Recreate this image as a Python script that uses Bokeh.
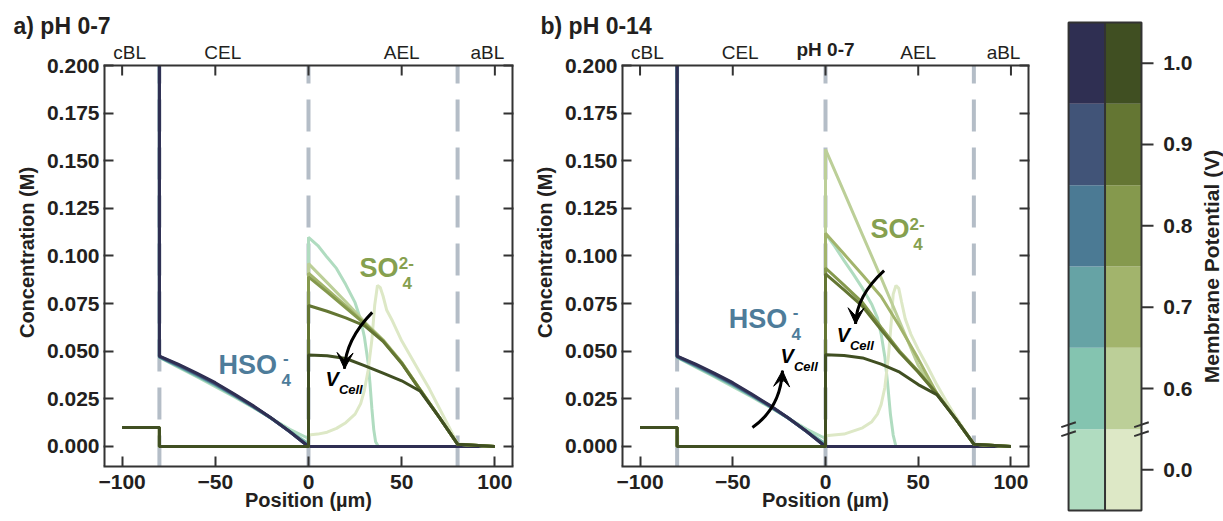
import math
from bokeh.plotting import figure
from bokeh.layouts import row
from bokeh.models import FixedTicker, Label, Arrow, VeeHead, LinearAxis
from bokeh.core.properties import value
from bokeh.embed import file_html
from bokeh.resources import INLINE

FONT = "Liberation Sans"
INK = "#231f20"
FRAME = "#333333"

# ---------------- data ----------------
POTENTIALS = ["0.0", "0.6", "0.7", "0.8", "0.9", "1.0"]
HSO_COLORS = ["#b0dcc0", "#84c4b0", "#66a3a5", "#4b7a94", "#415478", "#2f2f52"]
SO_COLORS = ["#dde8c6", "#bccf98", "#a2b46c", "#85994d", "#647633", "#404f22"]

X_TICKS = [-100, -50, 0, 50, 100]
X_TICK_LABELS = ["\u2212100", "\u221250", "0", "50", "100"]
Y_TICKS = [0.0, 0.025, 0.05, 0.075, 0.1, 0.125, 0.15, 0.175, 0.2]
Y_TICK_LABELS = ["0.000", "0.025", "0.050", "0.075", "0.100", "0.125", "0.150", "0.175", "0.200"]
REGION_POS = [-96, -46, 50, 96]
REGION_LABELS = ["cBL", "CEL", "AEL", "aBL"]
BOUNDARIES = [-80, 0, 80]

# bulk concentrations (x < -80); HSO4- is far above the plotted range
BULK_X = [-100, -80]
HSO_BULK = 1.0
SO_BULK = 0.010

# HSO4- through the cation exchange layer (same in both panels)
CEL_X = [-80, -70, -60, -50, -40, -30, -20, -10, 0]
HSO_CEL = {
    "0.0": [0.0468, 0.0417, 0.0366, 0.0314, 0.0261, 0.0206, 0.0148, 0.0090, 0.0042],
    "0.6": [0.0469, 0.0420, 0.0371, 0.0320, 0.0266, 0.0209, 0.0148, 0.0080, 0.0015],
    "0.7": [0.0470, 0.0423, 0.0374, 0.0324, 0.0269, 0.0211, 0.0148, 0.0078, 0.0005],
    "0.8": [0.0471, 0.0426, 0.0378, 0.0327, 0.0271, 0.0212, 0.0148, 0.0077, 0.0],
    "0.9": [0.0473, 0.0429, 0.0381, 0.0331, 0.0273, 0.0213, 0.0149, 0.0077, 0.0],
    "1.0": [0.0475, 0.0432, 0.0385, 0.0335, 0.0277, 0.0216, 0.0150, 0.0078, 0.0],
}

# HSO4- in the anion exchange layer at 0.0 V (zero for the other potentials)
HSO_A0_AEL_X = [0, 5, 10, 15, 20, 25, 28, 30, 32, 33, 34, 35, 36, 37.5]
HSO_A0_AEL = [0.1098, 0.1055, 0.0993, 0.0935, 0.0850, 0.0755, 0.0665, 0.0575,
              0.0440, 0.0330, 0.0200, 0.0090, 0.0025, 0.0]
HSO_B0_AEL_X = [0, 5, 10, 15, 20, 25, 28, 30, 32, 33.5, 35, 36.5, 38]
HSO_B0_AEL = [0.1116, 0.1050, 0.0976, 0.0905, 0.0830, 0.0745, 0.0675, 0.0590,
              0.0470, 0.0330, 0.0170, 0.0060, 0.0]

# SO4 2- in the anion exchange layer
SO_X = [0, 10, 20, 30, 40, 50, 60, 70, 80]
SO_A = {
    "0.6": [0.0960, 0.0860, 0.0760, 0.0655, 0.0560, 0.0442, 0.0298, 0.0157, 0.0012],
    "0.7": [0.0910, 0.0825, 0.0738, 0.0648, 0.0557, 0.0440, 0.0297, 0.0156, 0.0012],
    "0.8": [0.0890, 0.0810, 0.0728, 0.0645, 0.0555, 0.0438, 0.0296, 0.0156, 0.0012],
    "0.9": [0.0740, 0.0710, 0.0675, 0.0635, 0.0552, 0.0436, 0.0295, 0.0155, 0.0012],
    "1.0": [0.0480, 0.0476, 0.0462, 0.0425, 0.0385, 0.0345, 0.0290, 0.0155, 0.0012],
}
SO_A0_X = [0, 5, 10, 15, 20, 25, 28, 30, 32, 34, 35.5, 37, 38.5, 40, 42, 45,
           50, 55, 60, 65, 70, 75, 80]
SO_A0 = [0.0060, 0.0065, 0.0075, 0.0095, 0.0125, 0.0170, 0.0225, 0.0295, 0.0400,
         0.0560, 0.0740, 0.0845, 0.0835, 0.0790, 0.0715, 0.0660, 0.0555, 0.0470,
         0.0385, 0.0300, 0.0205, 0.0110, 0.0013]
SO_B = {
    "0.6": [0.1560, 0.1335, 0.1110, 0.0885, 0.0655, 0.0425, 0.0280, 0.0148, 0.0012],
    "0.7": [0.1120, 0.1010, 0.0900, 0.0787, 0.0630, 0.0460, 0.0280, 0.0148, 0.0012],
    "0.8": [0.0937, 0.0847, 0.0755, 0.0625, 0.0500, 0.0395, 0.0278, 0.0148, 0.0012],
    "0.9": [0.0906, 0.0822, 0.0735, 0.0612, 0.0493, 0.0390, 0.0277, 0.0148, 0.0012],
    "1.0": [0.0482, 0.0478, 0.0465, 0.0432, 0.0390, 0.0325, 0.0272, 0.0148, 0.0012],
}
SO_B0_X = [0, 10, 20, 25, 28, 30, 32, 34, 35.5, 36.5, 38, 39.5, 41, 43, 46, 50,
           55, 60, 65, 70, 75, 80]
SO_B0 = [0.0056, 0.0065, 0.0098, 0.0130, 0.0170, 0.0220, 0.0310, 0.0480, 0.0660,
         0.0800, 0.0845, 0.0830, 0.0760, 0.0670, 0.0590, 0.0510, 0.0420, 0.0325,
         0.0240, 0.0160, 0.0085, 0.0013]
TAIL_X = 100  # end of the anode boundary layer

# annotation anchors (data coordinates, vertical centre of the text)
ARROWS_A = [((34.2, 0.0704), (19.9, 0.0560), (19.3, 0.0408))]
ARROWS_B = [((31.6, 0.0923), (16.7, 0.0791), (16.2, 0.0643)),
            ((-39.4, 0.0100), (-24.2, 0.0203), (-23.2, 0.0398))]
VCELL_A = [(9.1, 0.0353)]
VCELL_B = [(-24.2, 0.0474), (6.0, 0.0584)]
HSO_LABEL_A = (-48.3, 0.0427)
HSO_LABEL_B = (-52.2, 0.0671)
SO_LABEL_A = (27.4, 0.0936)
SO_LABEL_B = (24.3, 0.1141)

X_RANGE = (-110, 110)
Y_RANGE = (-0.0105, 0.2)      # plotted box
PX = 0.2105 / 401.0           # concentration per pixel inside the box
Y_TOP = Y_RANGE[1] + 27 * PX  # drawing area reaches above the box for the region labels
REGION_Y = Y_RANGE[1] + 13 * PX
MID_Y = Y_RANGE[1] + 16.5 * PX
TICK_LEN = 10 * PX


def no_align(fig):
    if "frame_align" in fig.properties():
        fig.frame_align = False


def lbl(p, x, y, text, size, color=INK, style="bold"):
    p.add_layout(Label(x=x, y=y, text=text, text_font=FONT, text_font_size=size,
                       text_font_style=style, text_color=color, text_align="left",
                       text_baseline="middle"))


def make_panel(width, bl, br, title, title_offset, mid_label, so_ael, so0_x, so0,
               hso0_x, hso0, arrows, vcells, hso_pos, so_pos):
    p = figure(width=width, height=521, x_range=X_RANGE, y_range=(Y_RANGE[0], Y_TOP),
               output_backend="svg", toolbar_location=None,
               min_border_left=bl, min_border_right=br,
               min_border_top=38, min_border_bottom=55)
    no_align(p)
    p.xgrid.visible = False
    p.ygrid.visible = False
    p.outline_line_color = None

    p.title.text = title
    p.title.align = "left"
    p.title.offset = title_offset
    p.title.standoff = 0
    p.title.text_font = FONT
    p.title.text_font_size = "23px"
    p.title.text_font_style = "bold"
    p.title.text_color = INK

    bottom = p.below[0]
    left = p.left[0]
    right = LinearAxis()
    p.add_layout(right, "right")
    for ax in (bottom, left, right):
        ax.axis_line_color = FRAME
        ax.axis_line_width = 2
        ax.major_tick_line_color = FRAME
        ax.major_tick_line_width = 2
        ax.major_tick_in = 10
        ax.major_tick_out = 0
        ax.minor_tick_line_color = None
        ax.major_label_text_font = FONT
        ax.major_label_text_font_style = "bold"
        ax.major_label_text_font_size = "21px"
        ax.major_label_text_color = INK
        ax.axis_label_text_font = FONT
        ax.axis_label_text_font_style = "bold"
        ax.axis_label_text_font_size = "20px"
        ax.axis_label_text_color = INK
    left.axis_line_color = None
    right.axis_line_color = None

    bottom.ticker = FixedTicker(ticks=X_TICKS)
    bottom.major_label_overrides = dict(zip(X_TICKS, X_TICK_LABELS))
    bottom.major_label_standoff = 8
    bottom.axis_label = "Position (\u00b5m)"
    bottom.axis_label_standoff = -3

    left.ticker = FixedTicker(ticks=Y_TICKS)
    left.major_label_overrides = dict(zip(Y_TICKS, Y_TICK_LABELS))
    left.major_label_standoff = 4
    left.axis_label = "Concentration (M)"
    left.axis_label_standoff = 6

    right.ticker = FixedTicker(ticks=Y_TICKS)
    right.major_label_overrides = {t: "" for t in Y_TICKS}
    right.major_label_text_font_size = "1px"
    right.major_label_text_color = None
    right.major_label_standoff = 0

    # boundary markers
    p.segment(x0=BOUNDARIES, y0=[Y_RANGE[1]] * 3, x1=BOUNDARIES, y1=[Y_RANGE[0]] * 3,
              line_color="#b4bdc7", line_width=4, line_dash="32 16", line_dash_offset=14)

    # HSO4- profiles; the off-scale bulk value enters the box at its top edge
    for pot, col in zip(POTENTIALS, HSO_COLORS):
        xs = [BULK_X[-1]] + CEL_X
        ys = [min(HSO_BULK, Y_RANGE[1])] + HSO_CEL[pot]
        if pot == "0.0":
            xs = xs + hso0_x + [TAIL_X]
            ys = ys + hso0 + [0.0]
        else:
            xs = xs + [0, TAIL_X]
            ys = ys + [0.0, 0.0]
        p.line(xs, ys, line_color=col, line_width=3)

    # SO4 2- profiles
    for pot, col in zip(POTENTIALS, SO_COLORS):
        xs = BULK_X + [-80, 0]
        ys = [SO_BULK, SO_BULK, 0.0, 0.0]
        if pot == "0.0":
            xs = xs + so0_x + [TAIL_X]
            ys = ys + so0 + [0.0]
        else:
            xs = xs + SO_X + [TAIL_X]
            ys = ys + so_ael[pot] + [0.0]
        p.line(xs, ys, line_color=col, line_width=3)

    # box: side edges (half hidden by the drawing-area edge) and top edge
    p.segment(x0=list(X_RANGE), y0=[Y_RANGE[0]] * 2, x1=list(X_RANGE),
              y1=[Y_RANGE[1]] * 2, line_color=FRAME, line_width=4)
    p.segment(x0=[X_RANGE[0]], y0=[Y_RANGE[1]], x1=[X_RANGE[1]], y1=[Y_RANGE[1]],
              line_color=FRAME, line_width=2)
    # inward ticks along the top edge
    p.segment(x0=X_TICKS, y0=[Y_RANGE[1]] * len(X_TICKS), x1=X_TICKS,
              y1=[Y_RANGE[1] - TICK_LEN] * len(X_TICKS), line_color=FRAME, line_width=2)

    # region labels above the box
    p.text(x=REGION_POS, y=[REGION_Y] * len(REGION_POS), text=REGION_LABELS,
           text_font=value(FONT), text_font_size="19px", text_color=INK,
           text_align="center", text_baseline="middle")
    if mid_label:
        p.text(x=[0], y=[MID_Y], text=[mid_label], text_font=value(FONT),
               text_font_size="19px", text_font_style="bold", text_color=INK,
               text_align="center", text_baseline="middle")

    # V_cell arrows
    for (s, c, t) in arrows:
        p.quadratic(x0=[s[0]], y0=[s[1]], x1=[t[0]], y1=[t[1]], cx=[c[0]], cy=[c[1]],
                    line_color="black", line_width=3)
        p.add_layout(Arrow(end=VeeHead(size=16, fill_color="black", line_color="black",
                                       line_width=1),
                           x_start=t[0] + 0.3 * (c[0] - t[0]),
                           y_start=t[1] + 0.3 * (c[1] - t[1]),
                           x_end=t[0], y_end=t[1], line_color="black", line_width=3))
    for (vx, vy) in vcells:
        lbl(p, vx, vy, "V", "20px", color="black", style="bold italic")
        lbl(p, vx + 7.2, vy - 0.0052, "Cell", "13px", color="black", style="bold italic")

    # species labels
    hx, hy = hso_pos
    lbl(p, hx, hy, "HSO", "27px", color="#4e7c9a")
    lbl(p, hx + 33.8, hy - 0.0078, "4", "17px", color="#4e7c9a")
    lbl(p, hx + 34.6, hy + 0.0035, "-", "17px", color="#4e7c9a")
    sx, sy = so_pos
    lbl(p, sx, sy, "SO", "27px", color="#86a04f")
    lbl(p, sx + 23.0, sy - 0.0078, "4", "17px", color="#86a04f")
    lbl(p, sx + 21.0, sy + 0.0029, "2-", "17px", color="#86a04f")
    return p


pa = make_panel(525, 103, 12, "a) pH 0-7", -90, None, SO_A, SO_A0_X, SO_A0,
                HSO_A0_AEL_X, HSO_A0_AEL, ARROWS_A, VCELL_A, HSO_LABEL_A, SO_LABEL_A)
pb = make_panel(515, 96, 11, "b) pH 0-14", -81, "pH 0-7", SO_B, SO_B0_X, SO_B0,
                HSO_B0_AEL_X, HSO_B0_AEL, ARROWS_B, VCELL_B, HSO_LABEL_B, SO_LABEL_B)

# ---------------- colour bar (whole figure is its drawing area) ----------------
cb = figure(width=183, height=521, x_range=(-0.77, 4.25), y_range=(-0.135, 6.27),
            x_axis_location=None, y_axis_location=None,
            output_backend="svg", toolbar_location=None,
            min_border_left=0, min_border_right=0, min_border_top=0,
            min_border_bottom=0)
no_align(cb)
cb.xgrid.visible = False
cb.ygrid.visible = False
cb.outline_line_color = None
n = len(POTENTIALS)
lows = list(range(n))
highs = list(range(1, n + 1))
mids = [i + 0.5 for i in range(n)]
cb.quad(left=[0] * n, right=[1] * n, bottom=lows, top=highs,
        fill_color=HSO_COLORS, line_color=None)
cb.quad(left=[1] * n, right=[2] * n, bottom=lows, top=highs,
        fill_color=SO_COLORS, line_color=None)
cb.line([1, 1], [0, n], line_color=FRAME, line_width=2)
cb.quad(left=[0], right=[2], bottom=[0], top=[n], fill_color=None,
        line_color=FRAME, line_width=2)
# ticks and labels of the potential scale
cb.segment(x0=[2] * n, y0=mids, x1=[2.33] * n, y1=mids, line_color=FRAME, line_width=2)
cb.text(x=[2.6] * n, y=mids, text=POTENTIALS, text_font=value(FONT),
        text_font_size="21px", text_font_style="bold", text_color=INK,
        text_align="left", text_baseline="middle")
cb.text(x=[3.93], y=[3.0], text=["Membrane Potential (V)"], angle=math.pi / 2,
        text_font=value(FONT), text_font_size="21px", text_font_style="bold",
        text_color=INK, text_align="center", text_baseline="middle")
# axis-break marks between 0.0 and 0.6
bx0, bx1, by0, by1 = [], [], [], []
for xc in (0.0, 2.0):
    for dy in (-0.055, 0.055):
        bx0.append(xc - 0.2)
        bx1.append(xc + 0.2)
        by0.append(1 + dy - 0.03)
        by1.append(1 + dy + 0.03)
cb.segment(x0=bx0, y0=by0, x1=bx1, y1=by1, line_color=FRAME, line_width=2)

layout = row(pa, pb, cb)
open("out.html", "w").write(file_html(layout, INLINE))
